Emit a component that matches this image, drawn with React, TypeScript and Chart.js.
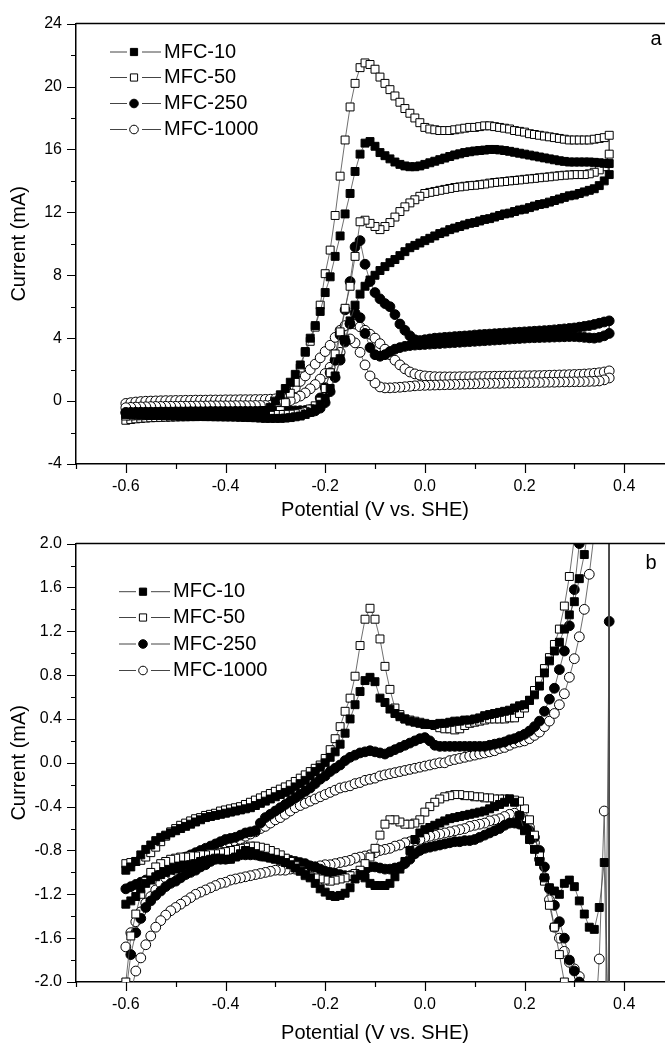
import React, { useEffect, useRef } from 'react';
import { Chart, registerables } from 'chart.js';

Chart.register(...registerables);
Chart.defaults.font.family = "'Liberation Sans', Arial, Helvetica, sans-serif";
Chart.defaults.color = '#000';

// Sweep potentials (V vs. SHE), shared by every branch
const POTENTIAL = [
  -0.60, -0.59, -0.58, -0.57, -0.56, -0.55, -0.54, -0.53, -0.52, -0.51,
  -0.50, -0.49, -0.48, -0.47, -0.46, -0.45, -0.44, -0.43, -0.42, -0.41,
  -0.40, -0.39, -0.38, -0.37, -0.36, -0.35, -0.34, -0.33, -0.32, -0.31,
  -0.30, -0.29, -0.28, -0.27, -0.26, -0.25, -0.24, -0.23, -0.22, -0.21,
  -0.20, -0.19, -0.18, -0.17, -0.16, -0.15, -0.14, -0.13, -0.12, -0.11,
  -0.10, -0.09, -0.08, -0.07, -0.06, -0.05, -0.04, -0.03, -0.02, -0.01,
  0.00, 0.01, 0.02, 0.03, 0.04, 0.05, 0.06, 0.07, 0.08, 0.09,
  0.10, 0.11, 0.12, 0.13, 0.14, 0.15, 0.16, 0.17, 0.18, 0.19,
  0.20, 0.21, 0.22, 0.23, 0.24, 0.25, 0.26, 0.27, 0.28, 0.29,
  0.30, 0.31, 0.32, 0.33, 0.34, 0.35, 0.36, 0.37,
];

const SERIES = ['MFC-10', 'MFC-50', 'MFC-250', 'MFC-1000'];
const X_TITLE = 'Potential (V vs. SHE)';
const Y_TITLE = 'Current (mA)';

// ---------- Panel a (mA); FWD = positive-going scan, REV = return scan, both listed at POTENTIAL ----------
const A_MFC10_FWD = [
  -0.78, -0.77, -0.76, -0.76, -0.75, -0.75, -0.74, -0.74, -0.73, -0.73,
  -0.73, -0.72, -0.72, -0.72, -0.71, -0.71, -0.71, -0.70, -0.70, -0.70,
  -0.70, -0.69, -0.69, -0.69, -0.68, -0.68, -0.67, -0.65, -0.6, -0.4,
  0.0, 0.4, 0.8, 1.2, 1.7, 2.3, 3.15, 4.0, 4.8, 5.7,
  6.9, 7.9, 9.2, 10.5, 11.9, 13.2, 14.6, 15.7, 16.4, 16.5,
  16.2, 15.8, 15.6, 15.4, 15.2, 15.05, 14.95, 14.9, 14.9, 14.95,
  15.05, 15.15, 15.25, 15.35, 15.45, 15.55, 15.65, 15.72, 15.8, 15.85,
  15.9, 15.93, 15.96, 16.0, 16.0, 15.97, 15.93, 15.88, 15.82, 15.76,
  15.7, 15.64, 15.58, 15.52, 15.46, 15.4, 15.34, 15.28, 15.24, 15.2,
  15.2, 15.2, 15.2, 15.2, 15.18, 15.15, 15.12, 15.1,
];
const A_MFC10_REV = [
  -0.85, -0.86, -0.87, -0.88, -0.89, -0.9, -0.91, -0.92, -0.93, -0.94,
  -0.95, -0.96, -0.96, -0.97, -0.98, -0.98, -0.99, -0.99, -1.0, -1.0,
  -1.01, -1.01, -1.02, -1.03, -1.04, -1.05, -1.06, -1.08, -1.1, -1.1,
  -1.1, -1.1, -1.08, -1.05, -1.0, -0.95, -0.85, -0.72, -0.5, -0.2,
  0.2, 0.8, 1.6, 2.7, 3.9, 5.1, 6.1, 6.8, 7.3, 7.7,
  8.0, 8.3, 8.55, 8.8, 9.0, 9.25, 9.5, 9.75, 9.9, 10.05,
  10.2, 10.35, 10.5, 10.65, 10.75, 10.9, 11.0, 11.1, 11.2, 11.3,
  11.35, 11.45, 11.55, 11.6, 11.7, 11.8, 11.9, 11.95, 12.05, 12.15,
  12.2, 12.3, 12.4, 12.5, 12.55, 12.65, 12.75, 12.85, 12.95, 13.05,
  13.1, 13.2, 13.3, 13.4, 13.5, 13.7, 14.0, 14.4,
];
const A_MFC50_FWD = [
  -1.22, -1.17, -1.13, -1.1, -1.08, -1.06, -1.05, -1.04, -1.03, -1.02,
  -1.01, -1.0, -1.0, -0.99, -0.99, -0.98, -0.98, -0.97, -0.97, -0.97,
  -0.96, -0.96, -0.96, -0.95, -0.95, -0.95, -0.94, -0.93, -0.92, -0.9,
  -0.85, -0.6, -0.1, 0.5, 1.2, 2.1, 3.1, 3.8, 4.7, 6.1,
  8.1, 9.6, 11.8, 14.3, 16.6, 18.7, 20.2, 21.2, 21.5, 21.4,
  21.1, 20.6, 20.2, 19.8, 19.4, 19.0, 18.6, 18.3, 18.0, 17.7,
  17.4, 17.3, 17.25, 17.2, 17.2, 17.2, 17.25, 17.3, 17.35, 17.4,
  17.4, 17.45, 17.5, 17.5, 17.45, 17.4, 17.35, 17.3, 17.2, 17.15,
  17.1, 17.0, 16.95, 16.9, 16.85, 16.8, 16.75, 16.7, 16.65, 16.6,
  16.6, 16.6, 16.6, 16.6, 16.65, 16.7, 16.75, 16.9,
];
const A_MFC50_REV = [
  -0.95, -0.94, -0.93, -0.93, -0.92, -0.92, -0.91, -0.91, -0.9, -0.9,
  -0.9, -0.89, -0.89, -0.89, -0.88, -0.88, -0.88, -0.87, -0.87, -0.87,
  -0.87, -0.86, -0.86, -0.86, -0.86, -0.85, -0.85, -0.85, -0.85, -0.85,
  -0.85, -0.85, -0.84, -0.83, -0.8, -0.75, -0.65, -0.5, -0.3, 0.0,
  0.8, 1.8, 3.0, 4.4, 5.9, 7.3, 9.2, 11.4, 11.5, 11.3,
  11.1, 10.9, 11.1, 11.35, 11.7, 12.05, 12.35, 12.6, 12.8, 13.02,
  13.2, 13.27, 13.33, 13.4, 13.46, 13.52, 13.58, 13.62, 13.66, 13.7,
  13.72, 13.76, 13.8, 13.86, 13.9, 13.93, 13.96, 14.0, 14.03, 14.06,
  14.1, 14.13, 14.16, 14.2, 14.23, 14.26, 14.3, 14.33, 14.36, 14.38,
  14.4, 14.4, 14.4, 14.45, 14.55, 14.7, 14.9, 15.7,
];
const A_MFC250_FWD = [
  -0.72, -0.72, -0.71, -0.71, -0.7, -0.7, -0.7, -0.69, -0.69, -0.69,
  -0.68, -0.68, -0.68, -0.67, -0.67, -0.67, -0.67, -0.66, -0.66, -0.66,
  -0.66, -0.66, -0.65, -0.65, -0.65, -0.65, -0.65, -0.64, -0.64, -0.64,
  -0.64, -0.63, -0.63, -0.62, -0.62, -0.61, -0.6, -0.55, -0.4, 0.2,
  0.85, 1.8, 2.6, 4.2, 5.8, 7.6, 9.8, 10.2, 8.7, 7.6,
  6.9, 6.5, 6.2, 6.0, 5.5, 4.9, 4.5, 4.15, 3.9, 3.85,
  3.9, 3.95, 4.0, 4.02, 4.05, 4.07, 4.1, 4.12, 4.14, 4.16,
  4.2, 4.22, 4.24, 4.26, 4.28, 4.3, 4.32, 4.34, 4.36, 4.38,
  4.4, 4.42, 4.44, 4.46, 4.48, 4.5, 4.53, 4.56, 4.59, 4.62,
  4.65, 4.7, 4.75, 4.8, 4.87, 4.95, 5.03, 5.1,
];
const A_MFC250_REV = [
  -0.75, -0.75, -0.75, -0.74, -0.74, -0.74, -0.74, -0.73, -0.73, -0.73,
  -0.73, -0.73, -0.73, -0.73, -0.72, -0.72, -0.72, -0.72, -0.72, -0.72,
  -0.72, -0.72, -0.72, -0.72, -0.72, -0.72, -0.72, -0.72, -0.72, -0.72,
  -0.72, -0.72, -0.72, -0.72, -0.72, -0.71, -0.7, -0.68, -0.62, -0.45,
  -0.1, 0.6, 1.5, 2.6, 3.8, 4.9, 5.6, 5.3, 4.3, 3.4,
  2.95, 2.85, 2.95, 3.15, 3.3, 3.4, 3.48, 3.53, 3.56, 3.58,
  3.6, 3.62, 3.64, 3.66, 3.68, 3.7, 3.72, 3.74, 3.76, 3.78,
  3.8, 3.82, 3.84, 3.86, 3.88, 3.9, 3.92, 3.94, 3.96, 3.98,
  4.0, 4.02, 4.03, 4.04, 4.05, 4.06, 4.07, 4.08, 4.09, 4.1,
  4.1, 4.08, 4.05, 4.02, 4.0, 4.05, 4.15, 4.3,
];
const A_MFC1000_FWD = [
  -0.15, -0.1, -0.06, -0.03, -0.01, 0.0, 0.01, 0.02, 0.03, 0.03,
  0.04, 0.04, 0.05, 0.05, 0.06, 0.06, 0.06, 0.07, 0.07, 0.07,
  0.08, 0.08, 0.08, 0.09, 0.09, 0.09, 0.1, 0.1, 0.11, 0.12,
  0.14, 0.2, 0.35, 0.55, 0.85, 1.25, 1.6, 2.0, 2.35, 2.75,
  3.15, 3.55, 4.05, 4.5, 4.8, 4.92, 4.9, 4.72, 4.5, 4.25,
  4.0, 3.65, 3.3, 2.95, 2.6, 2.3, 2.05, 1.85, 1.73, 1.65,
  1.6, 1.57, 1.55, 1.54, 1.54, 1.54, 1.54, 1.55, 1.55, 1.55,
  1.56, 1.56, 1.57, 1.57, 1.58, 1.58, 1.59, 1.59, 1.6, 1.6,
  1.61, 1.61, 1.62, 1.62, 1.63, 1.64, 1.65, 1.66, 1.67, 1.68,
  1.69, 1.7, 1.72, 1.74, 1.77, 1.8, 1.85, 1.92,
];
const A_MFC1000_REV = [
  -0.42, -0.4, -0.38, -0.37, -0.36, -0.35, -0.34, -0.34, -0.33, -0.33,
  -0.33, -0.32, -0.32, -0.32, -0.31, -0.31, -0.31, -0.3, -0.3, -0.3,
  -0.3, -0.3, -0.29, -0.29, -0.29, -0.29, -0.28, -0.28, -0.28, -0.27,
  -0.25, -0.2, -0.1, 0.03, 0.18, 0.32, 0.52, 0.78, 1.05, 1.4,
  1.75, 2.15, 2.6, 3.1, 3.75, 3.95, 3.7, 3.1, 2.3, 1.6,
  1.15, 0.9, 0.84, 0.84, 0.86, 0.88, 0.91, 0.94, 0.97, 0.99,
  1.0, 1.01, 1.02, 1.03, 1.04, 1.05, 1.06, 1.07, 1.08, 1.09,
  1.1, 1.11, 1.12, 1.12, 1.13, 1.13, 1.14, 1.15, 1.15, 1.16,
  1.17, 1.17, 1.18, 1.18, 1.19, 1.2, 1.2, 1.21, 1.22, 1.22,
  1.23, 1.23, 1.24, 1.25, 1.26, 1.28, 1.35, 1.47,
];

// ---------- Panel b (mA) ----------
const B_MFC10_FWD = [
  -0.98, -0.95, -0.9, -0.84, -0.79, -0.75, -0.71, -0.68, -0.66, -0.64,
  -0.62, -0.6, -0.58, -0.56, -0.54, -0.52, -0.5, -0.49, -0.48, -0.47,
  -0.46, -0.45, -0.44, -0.43, -0.42, -0.41, -0.39, -0.37, -0.35, -0.33,
  -0.31, -0.29, -0.27, -0.25, -0.22, -0.19, -0.16, -0.12, -0.08, -0.04,
  0.0, 0.05, 0.1, 0.17, 0.27, 0.4, 0.53, 0.65, 0.75, 0.78,
  0.74, 0.59, 0.55, 0.49, 0.45, 0.42, 0.4, 0.38, 0.37, 0.36,
  0.35, 0.35, 0.35, 0.36, 0.36, 0.37, 0.38, 0.38, 0.39, 0.39,
  0.4, 0.41, 0.43, 0.44, 0.45, 0.46, 0.47, 0.48, 0.5, 0.52,
  0.53, 0.57, 0.62, 0.7, 0.82, 0.93, 1.02, 1.1, 1.22, 1.35,
  1.47, 1.68, 1.9, 2.2, 2.6, 3.2, 4.2, 6.0,
];
const B_MFC10_REV = [
  -1.29, -1.26, -1.22, -1.15, -1.1, -1.07, -1.04, -1.02, -1.0, -0.98,
  -0.97, -0.96, -0.94, -0.93, -0.92, -0.9, -0.89, -0.88, -0.87, -0.87,
  -0.88, -0.88, -0.86, -0.83, -0.8, -0.81, -0.83, -0.85, -0.86, -0.87,
  -0.88, -0.89, -0.91, -0.93, -0.96, -0.99, -1.02, -1.05, -1.1, -1.15,
  -1.18, -1.21, -1.22, -1.21, -1.19, -1.14, -1.06, -1.02, -1.05, -1.1,
  -1.12, -1.12, -1.12, -1.1, -1.04, -0.97, -0.9, -0.8, -0.7, -0.64,
  -0.61, -0.59, -0.57, -0.55, -0.53, -0.51, -0.5, -0.49, -0.48, -0.47,
  -0.46, -0.45, -0.44, -0.42, -0.4, -0.38, -0.36, -0.33, -0.36, -0.48,
  -0.62, -0.7, -0.79, -0.9, -1.05, -1.14, -1.17, -1.2, -1.1, -1.07,
  -1.13, -1.26, -1.38, -1.5, -1.52, -1.32, -0.91, -3.0,
];
const B_MFC50_FWD = [
  -0.92, -0.91, -0.9, -0.89, -0.86, -0.82, -0.77, -0.72, -0.67, -0.63,
  -0.6, -0.57, -0.55, -0.53, -0.51, -0.5, -0.48, -0.47, -0.46, -0.44,
  -0.43, -0.42, -0.41, -0.4, -0.38, -0.36, -0.34, -0.32, -0.3, -0.28,
  -0.26, -0.24, -0.22, -0.2, -0.17, -0.14, -0.11, -0.08, -0.05, -0.02,
  0.04, 0.12, 0.22, 0.33, 0.47, 0.59, 0.79, 1.07, 1.31, 1.41,
  1.31, 1.13, 0.88, 0.67, 0.5, 0.44, 0.4, 0.39, 0.38, 0.37,
  0.36, 0.35, 0.34, 0.32, 0.31, 0.31, 0.3, 0.31, 0.34, 0.36,
  0.37, 0.38, 0.39, 0.4, 0.4, 0.4, 0.4, 0.41, 0.41, 0.45,
  0.5, 0.57, 0.66, 0.75, 0.86, 0.96, 1.08, 1.22, 1.43, 1.7,
  2.05, 2.5, 3.0, 3.6, 4.3, 5.2, 6.3, 7.5,
];
const B_MFC50_REV = [
  -2.0, -1.58, -1.38, -1.2, -1.08, -1.0, -0.95, -0.92, -0.9, -0.88,
  -0.87, -0.86, -0.86, -0.85, -0.85, -0.84, -0.84, -0.83, -0.83, -0.82,
  -0.81, -0.8, -0.79, -0.78, -0.77, -0.76, -0.76, -0.77, -0.78, -0.8,
  -0.82, -0.84, -0.87, -0.9, -0.94, -0.98, -1.03, -1.04, -1.05, -1.06,
  -1.07, -1.08, -1.07, -1.06, -1.05, -1.03, -1.01, -0.98, -0.92, -0.86,
  -0.78, -0.66, -0.56, -0.52, -0.52, -0.54, -0.56, -0.56, -0.55, -0.52,
  -0.45, -0.4, -0.36, -0.33, -0.31, -0.3, -0.29, -0.29, -0.3, -0.3,
  -0.31, -0.31, -0.32, -0.32, -0.33, -0.33, -0.33, -0.33, -0.34, -0.35,
  -0.42, -0.52, -0.66, -0.85, -1.08, -1.3, -1.5, -1.75, -2.0, -2.3,
  -2.8, -3.2, -3.6, -4.0, -4.4, -4.8, -5.2, -5.6,
];
const B_MFC250_FWD = [
  -1.15, -1.13, -1.11, -1.09, -1.07, -1.05, -1.02, -0.99, -0.96, -0.93,
  -0.9, -0.88, -0.86, -0.84, -0.82, -0.8, -0.78, -0.76, -0.74, -0.72,
  -0.7, -0.69, -0.68, -0.66, -0.64, -0.63, -0.62, -0.55, -0.5, -0.47,
  -0.44, -0.41, -0.38, -0.35, -0.32, -0.29, -0.26, -0.23, -0.19, -0.15,
  -0.12, -0.08, -0.05, -0.02, 0.02, 0.05, 0.07, 0.09, 0.1, 0.11,
  0.1, 0.09, 0.08, 0.1, 0.12, 0.14, 0.16, 0.18, 0.2, 0.22,
  0.23, 0.2, 0.16, 0.15, 0.15, 0.15, 0.15, 0.15, 0.15, 0.15,
  0.15, 0.15, 0.15, 0.16, 0.17, 0.18, 0.19, 0.21, 0.22, 0.24,
  0.26, 0.29, 0.33, 0.38, 0.47, 0.58, 0.68, 0.85, 1.02, 1.25,
  1.58, 2.0, 2.5, 3.1, 3.8, 4.6, 5.5, 6.5,
];
const B_MFC250_REV = [
  -2.1, -1.75, -1.55, -1.42, -1.32, -1.26, -1.21, -1.17, -1.13, -1.1,
  -1.08, -1.05, -1.02, -1.0, -0.98, -0.95, -0.93, -0.9, -0.88, -0.88,
  -0.88, -0.87, -0.84, -0.84, -0.84, -0.84, -0.84, -0.85, -0.85, -0.86,
  -0.86, -0.87, -0.88, -0.89, -0.9, -0.91, -0.92, -0.94, -0.95, -0.97,
  -0.99, -1.0, -1.01, -1.02, -1.03, -1.03, -1.03, -1.02, -0.98, -0.95,
  -0.95, -0.96, -0.97, -0.97, -0.96, -0.95, -0.92, -0.88, -0.83, -0.8,
  -0.78, -0.77, -0.76, -0.75, -0.74, -0.73, -0.72, -0.72, -0.71, -0.71,
  -0.7, -0.68, -0.66, -0.64, -0.62, -0.6, -0.57, -0.55, -0.55, -0.56,
  -0.58, -0.62, -0.68, -0.8, -0.95, -1.15, -1.3, -1.45, -1.6, -1.8,
  -1.9, -2.0, -2.2, -2.5, -2.8, -3.0, -3.5, 1.29,
];
const B_MFC1000_FWD = [
  -1.68, -1.55, -1.45, -1.36, -1.28, -1.22, -1.16, -1.1, -1.05, -1.01,
  -0.98, -0.95, -0.92, -0.89, -0.87, -0.85, -0.84, -0.82, -0.8, -0.78,
  -0.76, -0.74, -0.72, -0.7, -0.67, -0.65, -0.63, -0.6, -0.58, -0.55,
  -0.52, -0.5, -0.47, -0.44, -0.41, -0.39, -0.37, -0.35, -0.33, -0.31,
  -0.29, -0.27, -0.25, -0.23, -0.22, -0.21, -0.19, -0.18, -0.16, -0.15,
  -0.14, -0.12, -0.11, -0.1, -0.09, -0.08, -0.07, -0.06, -0.05, -0.04,
  -0.03, -0.02, -0.01, 0.0, 0.0, 0.02, 0.03, 0.04, 0.05, 0.06,
  0.07, 0.08, 0.09, 0.1, 0.11, 0.13, 0.14, 0.16, 0.18, 0.19,
  0.2, 0.22, 0.25, 0.28, 0.33, 0.38, 0.45, 0.53, 0.63, 0.78,
  0.95, 1.15, 1.4, 1.72, 2.1, 2.8, 3.8, 5.0,
];
const B_MFC1000_REV = [
  -2.4, -2.1, -1.9, -1.78, -1.66, -1.58, -1.5, -1.44, -1.39, -1.35,
  -1.32, -1.29, -1.26, -1.23, -1.2, -1.18, -1.16, -1.14, -1.12, -1.1,
  -1.09, -1.07, -1.06, -1.05, -1.04, -1.03, -1.02, -1.01, -1.0, -0.99,
  -0.98, -0.98, -0.98, -0.97, -0.97, -0.97, -0.96, -0.95, -0.95, -0.94,
  -0.93, -0.93, -0.92, -0.91, -0.9, -0.89, -0.87, -0.86, -0.85, -0.84,
  -0.82, -0.8, -0.79, -0.78, -0.76, -0.75, -0.73, -0.72, -0.71, -0.7,
  -0.68, -0.67, -0.66, -0.65, -0.64, -0.63, -0.62, -0.61, -0.6, -0.58,
  -0.57, -0.56, -0.55, -0.53, -0.52, -0.51, -0.49, -0.47, -0.46, -0.48,
  -0.52, -0.59, -0.73, -0.88, -1.05, -1.25, -1.5, -1.6, -1.72, -1.82,
  -1.88, -1.95, -2.1, -2.3, -2.5, -1.79, -0.44, -3.0,
];

const MARKERS = [
  { style: 'rect', fill: '#000', radius: 5.6 },
  { style: 'rect', fill: '#fff', radius: 5.6 },
  { style: 'circle', fill: '#000', radius: 4.9 },
  { style: 'circle', fill: '#fff', radius: 4.9 },
];

function loop(fwd: number[], rev: number[]) {
  const pts = fwd.map((y, i) => ({ x: POTENTIAL[i], y }));
  for (let i = rev.length - 1; i >= 0; i--) pts.push({ x: POTENTIAL[i], y: rev[i] });
  return pts;
}

function drawMarker(ctx: CanvasRenderingContext2D, m: any, x: number, y: number) {
  ctx.beginPath();
  if (m.style === 'rect') {
    const h = 3.6;
    ctx.rect(x - h, y - h, 2 * h, 2 * h);
  } else {
    ctx.arc(x, y, 4.3, 0, Math.PI * 2);
  }
  ctx.fillStyle = m.fill;
  ctx.fill();
  ctx.lineWidth = 1;
  ctx.strokeStyle = '#000';
  ctx.stroke();
}

function decorPlugin(p: any) {
  return {
    id: 'decor',
    afterDraw(chart: any) {
      const { ctx, chartArea: a } = chart;
      const xs = chart.scales.x;
      const ys = chart.scales.y;
      ctx.save();
      ctx.strokeStyle = '#000';
      ctx.lineWidth = 1.2;
      ctx.beginPath();
      xs.ticks.forEach((t: any) => {
        const px = Math.round(xs.getPixelForValue(t.value)) + 0.5;
        const len = t.label ? 9 : 5;
        ctx.moveTo(px, a.bottom);
        ctx.lineTo(px, a.bottom + len);
      });
      ys.ticks.forEach((t: any) => {
        const py = Math.round(ys.getPixelForValue(t.value)) + 0.5;
        const len = t.label ? 9 : 5;
        ctx.moveTo(a.left, py);
        ctx.lineTo(a.left - len, py);
      });
      ctx.stroke();
      ctx.lineWidth = 1.5;
      ctx.beginPath();
      ctx.moveTo(a.left, a.top);
      ctx.lineTo(a.right, a.top);
      ctx.lineTo(a.right, a.bottom);
      ctx.stroke();

      ctx.font = "20px 'Liberation Sans', Arial, sans-serif";
      ctx.textBaseline = 'middle';
      ctx.textAlign = 'left';
      SERIES.forEach((name, i) => {
        const y = p.legendYs[i];
        const cx = p.legendCx;
        ctx.strokeStyle = '#444';
        ctx.lineWidth = 1;
        ctx.beginPath();
        ctx.moveTo(cx - 24, y);
        ctx.lineTo(cx - 7, y);
        ctx.moveTo(cx + 8, y);
        ctx.lineTo(cx + 27, y);
        ctx.stroke();
        drawMarker(ctx, MARKERS[i], cx, y);
        ctx.fillStyle = '#000';
        ctx.fillText(name, cx + 30, y);
      });
      ctx.textAlign = 'center';
      ctx.fillStyle = '#000';
      ctx.fillText(p.letter, p.letterX, p.letterY);
      ctx.restore();
    },
  };
}

function makeConfig(p: any): any {
  return {
    type: 'scatter',
    data: {
      datasets: p.series.map((s: number[][], i: number) => ({
        label: SERIES[i],
        data: loop(s[0], s[1]),
        showLine: true,
        borderColor: '#4a4a4a',
        borderWidth: 0.8,
        pointStyle: MARKERS[i].style,
        pointRadius: MARKERS[i].radius,
        pointBackgroundColor: MARKERS[i].fill,
        pointBorderColor: '#000',
        pointBorderWidth: 1,
        tension: 0,
      })),
    },
    options: {
      animation: false,
      responsive: false,
      events: [],
      layout: { padding: { top: p.padTop, bottom: p.padBottom, left: 0, right: 26 } },
      plugins: { legend: { display: false }, tooltip: { enabled: false } },
      scales: {
        x: {
          type: 'linear',
          min: -0.7,
          max: 0.5,
          afterFit: (s: any) => { s.height = p.xHeight; },
          ticks: {
            stepSize: 0.1,
            autoSkip: false,
            maxRotation: 0,
            padding: 13,
            color: '#000',
            font: { size: 16 },
            callback: (v: number) => {
              const k = Math.round(v * 10);
              if (k % 2 !== 0) return '';
              const r = k / 10;
              return (r === 0 ? 0 : r).toFixed(1);
            },
          },
          grid: { drawOnChartArea: false, drawTicks: false },
          border: { display: true, color: '#000', width: 1.5 },
          title: { display: true, text: X_TITLE, color: '#000', font: { size: 20, lineHeight: 1 }, padding: 0 },
        },
        y: {
          type: 'linear',
          min: p.yMin,
          max: p.yMax,
          afterFit: (s: any) => { s.width = 76; },
          ticks: {
            stepSize: p.yStep,
            autoSkip: false,
            padding: 14,
            color: '#000',
            font: { size: 16 },
            callback: p.yLabel,
          },
          grid: { drawOnChartArea: false, drawTicks: false },
          border: { display: true, color: '#000', width: 1.5 },
          title: { display: true, text: Y_TITLE, color: '#000', font: { size: 20, lineHeight: 1 }, padding: { top: 9, bottom: 0 } },
        },
      },
    },
    plugins: [decorPlugin(p)],
  };
}

const PANEL_A = {
  series: [
    [A_MFC10_FWD, A_MFC10_REV],
    [A_MFC50_FWD, A_MFC50_REV],
    [A_MFC250_FWD, A_MFC250_REV],
    [A_MFC1000_FWD, A_MFC1000_REV],
  ],
  yMin: -4,
  yMax: 24,
  yStep: 2,
  yLabel: (v: number) => (Math.round(v) % 4 === 0 ? String(Math.round(v)) : ''),
  padTop: 19,
  padBottom: 0,
  xHeight: 56,
  legendYs: [52, 77.5, 103.5, 129.5],
  legendCx: 134,
  letter: 'a',
  letterX: 656,
  letterY: 39,
};

const PANEL_B = {
  series: [
    [B_MFC10_FWD, B_MFC10_REV],
    [B_MFC50_FWD, B_MFC50_REV],
    [B_MFC250_FWD, B_MFC250_REV],
    [B_MFC1000_FWD, B_MFC1000_REV],
  ],
  yMin: -2,
  yMax: 2,
  yStep: 0.2,
  yLabel: (v: number) => {
    const k = Math.round(v * 10);
    if (k % 4 !== 0) return '';
    const r = k / 10;
    return (r === 0 ? 0 : r).toFixed(1);
  },
  padTop: 23,
  padBottom: 1,
  xHeight: 61,
  legendYs: [71.7, 97.5, 124, 150.5],
  legendCx: 143,
  letter: 'b',
  letterX: 651,
  letterY: 43,
};

export default function App() {
  const topRef = useRef<HTMLCanvasElement>(null);
  const botRef = useRef<HTMLCanvasElement>(null);
  useEffect(() => {
    document.body.style.margin = '0';
    const c1 = new Chart(topRef.current as HTMLCanvasElement, makeConfig(PANEL_A));
    const c2 = new Chart(botRef.current as HTMLCanvasElement, makeConfig(PANEL_B));
    return () => {
      c1.destroy();
      c2.destroy();
    };
  }, []);
  return (
    <div style={{ position: 'fixed', left: 0, top: 0, width: 665, height: 1044, overflow: 'hidden', background: '#fff' }}>
      <canvas ref={topRef} width={700} height={520} style={{ display: 'block', width: 700, height: 520 }} />
      <canvas ref={botRef} width={700} height={524} style={{ display: 'block', width: 700, height: 524 }} />
    </div>
  );
}
